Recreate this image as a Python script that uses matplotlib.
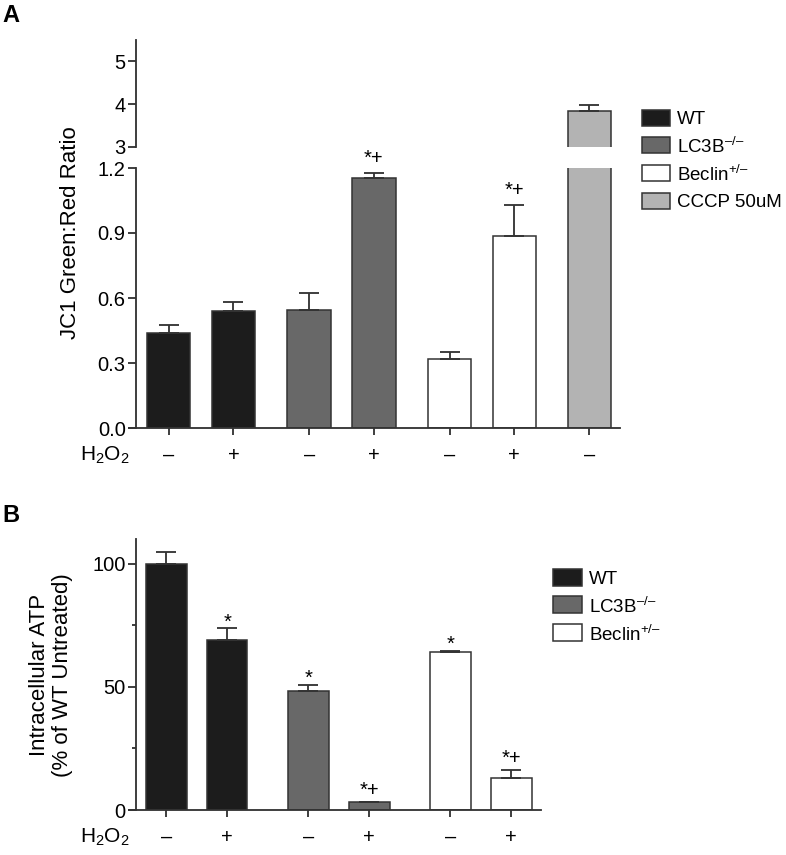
import matplotlib
matplotlib.use('Agg')
import matplotlib.pyplot as plt
from matplotlib.patches import Rectangle
import numpy as np

plt.rcParams['font.family'] = ['Liberation Sans', 'DejaVu Sans']
plt.rcParams['mathtext.fontset'] = 'custom'
plt.rcParams['mathtext.rm'] = 'Liberation Sans'
plt.rcParams['mathtext.it'] = 'Liberation Sans:italic'
plt.rcParams['mathtext.bf'] = 'Liberation Sans:bold'
plt.rcParams['mathtext.default'] = 'regular'

# ---------------- data ----------------
a_groups = ['WT', 'WT', 'LC3B', 'LC3B', 'Beclin', 'Beclin', 'CCCP']
a_h2o2 = ['–', '+', '–', '+', '–', '+', '–']
a_means = [0.437, 0.541, 0.545, 1.152, 0.317, 0.887, 3.84]
a_errs = [0.040, 0.040, 0.079, 0.026, 0.034, 0.143, 0.14]
a_pos = [0, 1, 2.17, 3.17, 4.34, 5.34, 6.5]
a_marks = ['', '', '', '*+', '', '*+', '']

b_groups = ['WT', 'WT', 'LC3B', 'LC3B', 'Beclin', 'Beclin']
b_h2o2 = ['–', '+', '–', '+', '–', '+']
b_means = [100, 69.2, 48.3, 3.2, 64.2, 13.1]
b_errs = [4.7, 4.5, 2.4, 0.0, 0.4, 3.0]
b_pos = [0, 1, 2.333, 3.333, 4.667, 5.667]
b_marks = ['', '*', '*', '*+', '*', '*+']

colors = {'WT': '#1c1c1c', 'LC3B': '#686868', 'Beclin': '#ffffff', 'CCCP': '#b3b3b3'}
labels = {'WT': 'WT', 'LC3B': 'LC3B$^{–/–}$', 'Beclin': 'Beclin$^{+/–}$',
          'CCCP': 'CCCP 50uM'}

EDGE = '#333333'
LW = 1.1
TICK_FS = 14.5
LAB_FS = 16
W, H = 786, 855

fig = plt.figure(figsize=(W / 100, H / 100), dpi=100)


def fx(px):
    return px / W


def fy(py):
    return 1 - py / H


def axes_px(left, top, right, bottom):
    return fig.add_axes([fx(left), fy(bottom), fx(right) - fx(left), fy(top) - fy(bottom)])


def draw_bars(ax, pos, means, errs, groups, width):
    ax.bar(pos, means, width=width, color=[colors[g] for g in groups],
           edgecolor=EDGE, linewidth=LW,
           yerr=[np.zeros(len(errs)), errs], capsize=7.5,
           error_kw=dict(elinewidth=LW * 1.2, capthick=LW * 1.2, ecolor=EDGE))


def style_axis(ax, spine_x):
    for s in ['top', 'right']:
        ax.spines[s].set_visible(False)
    for s in ['left', 'bottom']:
        ax.spines[s].set_linewidth(LW * 1.2)
        ax.spines[s].set_color(EDGE)
    ax.spines['left'].set_position(('data', spine_x))
    ax.tick_params(axis='y', which='major', length=5.5, width=LW * 1.2, color=EDGE,
                   labelsize=TICK_FS, pad=2)
    ax.tick_params(axis='y', which='minor', length=2.8, width=LW * 1.2, color=EDGE)
    ax.tick_params(axis='x', length=5, width=LW * 1.2, color=EDGE, labelsize=TICK_FS, pad=8)


def draw_legend(keys, patch_x0, patch_x1, row0, dy, ph, text_x, fs):
    for i, k in enumerate(keys):
        cy = row0 + i * dy
        fig.add_artist(Rectangle((fx(patch_x0), fy(cy + ph / 2)), fx(patch_x1) - fx(patch_x0),
                                 fy(cy - ph / 2) - fy(cy + ph / 2), transform=fig.transFigure,
                                 facecolor=colors[k], edgecolor=EDGE, linewidth=LW))
        fig.text(fx(text_x), fy(cy), labels[k], fontsize=fs, va='center_baseline', ha='left')


# ---------------- panel A ----------------
xl_a = (-0.614, 6.974)
axA = axes_px(129, 168, 620, 428)
axT = axes_px(129, 40, 620, 146.7)
for ax in (axA, axT):
    draw_bars(ax, a_pos, a_means, a_errs, a_groups, 0.67)
    ax.set_xlim(*xl_a)
    style_axis(ax, -0.505)
axA.set_ylim(0, 1.2)
axA.set_yticks([0, 0.3, 0.6, 0.9, 1.2])
axA.set_yticklabels(['0.0', '0.3', '0.6', '0.9', '1.2'])
axA.set_xticks(a_pos)
axA.set_xticklabels(a_h2o2)
axT.set_ylim(3, 5.5)
axT.set_yticks([3, 4, 5])
axT.spines['bottom'].set_visible(False)
axT.set_xticks([])

for p, m, e, t in zip(a_pos, a_means, a_errs, a_marks):
    if t:
        axA.annotate(t, xy=(p, m + e), xytext=(0, 9), textcoords='offset pixels',
                     ha='center', va='baseline', fontsize=TICK_FS, annotation_clip=False)

axA.annotate('H$_2$O$_2$', xy=(xl_a[0], 0), xycoords=('data', 'axes fraction'),
             xytext=(1, -27), textcoords='offset pixels', ha='right', va='center',
             fontsize=TICK_FS + 0.5, annotation_clip=False)

fig.text(fx(70), fy(233), 'JC1 Green:Red Ratio', rotation=90, ha='center', va='center',
         fontsize=LAB_FS)
fig.text(fx(2), fy(16), 'A', fontsize=17, fontweight='bold', ha='left', va='center')

draw_legend(['WT', 'LC3B', 'Beclin', 'CCCP'], 641.7, 670, 117.8, 27.6, 16, 677, 13.5)

# ---------------- panel B ----------------
xl_b = (-0.611, 6.154)
axB = axes_px(129, 539, 541, 810)
draw_bars(axB, b_pos, b_means, b_errs, b_groups, 0.667)
axB.set_xlim(*xl_b)
style_axis(axB, -0.497)
axB.set_ylim(0, 110)
axB.set_yticks([0, 50, 100])
axB.set_yticks([25, 75], minor=True)
axB.set_xticks(b_pos)
axB.set_xticklabels(b_h2o2)

for p, m, e, t in zip(b_pos, b_means, b_errs, b_marks):
    if t:
        off = 6 if '+' in t else 1
        axB.annotate(t, xy=(p, m + e), xytext=(0, off), textcoords='offset pixels',
                     ha='center', va='baseline', fontsize=TICK_FS, annotation_clip=False)

axB.annotate('H$_2$O$_2$', xy=(xl_b[0], 0), xycoords=('data', 'axes fraction'),
             xytext=(1, -27), textcoords='offset pixels', ha='right', va='center',
             fontsize=TICK_FS + 0.5, annotation_clip=False)

fig.text(fx(51), fy(675), 'Intracellular ATP\n(% of WT Untreated)', rotation=90,
         ha='center', va='center', multialignment='center', fontsize=LAB_FS,
         linespacing=1.1)
fig.text(fx(2), fy(515), 'B', fontsize=17, fontweight='bold', ha='left', va='center')

draw_legend(['WT', 'LC3B', 'Beclin'], 553.3, 582.3, 577, 27.75, 17, 589.3, 13.5)

fig.savefig('out.png', dpi=100)
